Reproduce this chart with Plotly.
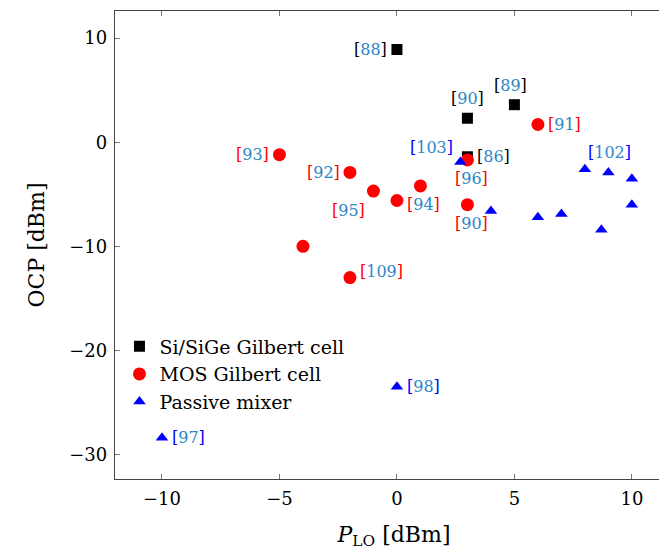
import plotly.graph_objects as go

# Data
sige_x = [0, 3, 5, 3]
sige_y = [8.9, 2.3, 3.6, -1.4]
sige_lbl = ["88", "90", "89", "86"]

mos_x = [-5, -2, -1, 1, 0, 3, 3, 6, -4, -2]
mos_y = [-1.2, -2.9, -4.7, -4.2, -5.6, -1.7, -6.0, 1.7, -10.0, -13.0]
mos_lbl = ["93", "92", "95", "", "94", "96", "90", "91", "", "109"]

pas_x = [2.7, 4, 6, 7, 8, 9, 10, 10, 8.7, 0, -10]
pas_y = [-1.9, -6.6, -7.2, -6.9, -2.6, -2.9, -3.5, -6.0, -8.4, -23.5, -28.4]
pas_lbl = ["103", "", "", "", "", "102", "", "", "", "98", "97"]

# label placement: (xanchor, yanchor, xshift, yshift)
sige_pos = [("right", "middle", -8, 0), ("center", "bottom", 0, 8),
            ("center", "bottom", -4, 8), ("left", "middle", 8, 0)]
mos_pos = [("right", "middle", -8, 0), ("right", "middle", -8, 0),
           ("right", "top", -6, -8), None, ("left", "middle", 8, -4),
           ("center", "top", 4, -7), ("center", "top", 4, -7),
           ("left", "middle", 8, 0), None, ("left", "middle", 8, 6)]
pas_pos = [("right", "bottom", -5, 3), None, None, None, None,
           ("center", "bottom", 1, 8), None, None, None,
           ("left", "middle", 8, 0), ("left", "middle", 8, 0)]

NUMC = "#2b86c5"
FONT = "DejaVu Serif"

fig = go.Figure()
fig.add_trace(go.Scatter(x=sige_x, y=sige_y, mode="markers", name="Si/SiGe Gilbert cell",
                         marker=dict(symbol="square", size=11, color="black")))
fig.add_trace(go.Scatter(x=mos_x, y=mos_y, mode="markers", name="MOS Gilbert cell",
                         marker=dict(symbol="circle", size=13, color="#ff0000")))
fig.add_trace(go.Scatter(x=pas_x, y=pas_y, mode="markers", name="Passive mixer",
                         marker=dict(symbol="triangle-up", size=11, color="#0000ff")))

def add_labels(xs, ys, lbls, poss, bc):
    for x, y, l, p in zip(xs, ys, lbls, poss):
        if not l or p is None:
            continue
        xa, ya, xs_, ys_ = p
        txt = (f"<span style='color:{bc}'>[</span><span style='color:{NUMC}'>{l}</span>"
               f"<span style='color:{bc}'>]</span>")
        fig.add_annotation(x=x, y=y, xref="x", yref="y", text=txt, showarrow=False,
                           xanchor=xa, yanchor=ya, xshift=xs_, yshift=ys_,
                           font=dict(family=FONT, size=16))

add_labels(sige_x, sige_y, sige_lbl, sige_pos, "black")
add_labels(mos_x, mos_y, mos_lbl, mos_pos, "#ff0000")
add_labels(pas_x, pas_y, pas_lbl, pas_pos, "#0000ff")

axis_common = dict(showgrid=False, zeroline=False, showline=True, linecolor="#444",
                   linewidth=1.3, mirror="ticks", ticks="inside", ticklen=5,
                   tickcolor="#777", automargin=False, ticklabelstandoff=3,
                   tickfont=dict(family=FONT, size=18, color="black"))

fig.update_layout(
    width=667, height=553,
    margin=dict(l=107, r=2, t=3, b=82),
    paper_bgcolor="white", plot_bgcolor="white",
    font=dict(family=FONT, size=17, color="black"),
    xaxis=dict(range=[-12, 11.75], tickvals=[-10, -5, 0, 5, 10],
               title=dict(text="<i>P</i><sub>LO</sub> [dBm]", font=dict(size=22), standoff=18),
               **axis_common),
    yaxis=dict(range=[-32.35, 12.6], tickvals=[-30, -20, -10, 0, 10],
               title=dict(text="OCP [dBm]", font=dict(size=22), standoff=18),
               **axis_common),
    legend=dict(x=0.008, y=0.324, xanchor="left", yanchor="top", bgcolor="rgba(0,0,0,0)",
                font=dict(family=FONT, size=19), itemwidth=30, tracegroupgap=2),
    showlegend=True,
)

fig.write_html("out.html")
